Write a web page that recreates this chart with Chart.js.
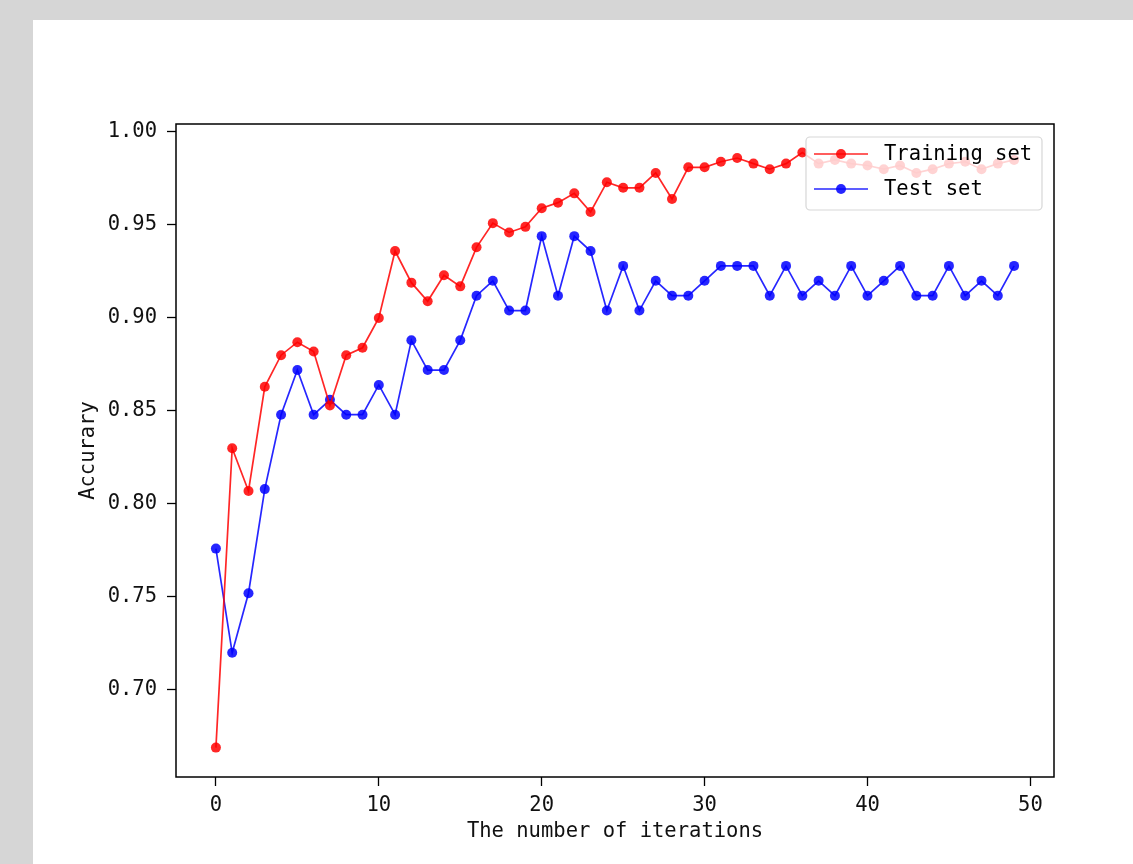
<!DOCTYPE html>
<html>
<head>
<meta charset="utf-8">
<script src="https://cdn.jsdelivr.net/npm/chart.js@4.4.0/dist/chart.umd.min.js"></script>
<style>
  html, body { margin: 0; padding: 0; background: #d6d6d6; width: 1133px; height: 864px; overflow: hidden; }
  #panel { position: absolute; left: 33px; top: 20px; width: 1100px; height: 844px; background: #ffffff; }
  #c { position: absolute; left: 0; top: 0; }
</style>
</head>
<body>
<div id="panel"></div>
<canvas id="c" width="1133" height="864"></canvas>
<script>
// ---- data ----
const iterations = Array.from({length: 50}, (_, i) => i);
const trainAcc = [0.669, 0.830, 0.807, 0.863, 0.880, 0.887, 0.882, 0.853, 0.880, 0.884,
                  0.900, 0.936, 0.919, 0.909, 0.923, 0.917, 0.938, 0.951, 0.946, 0.949,
                  0.959, 0.962, 0.967, 0.957, 0.973, 0.970, 0.970, 0.978, 0.964, 0.981,
                  0.981, 0.984, 0.986, 0.983, 0.980, 0.983, 0.989, 0.983, 0.985, 0.983,
                  0.982, 0.980, 0.982, 0.978, 0.980, 0.983, 0.984, 0.980, 0.983, 0.985];
const testAcc  = [0.776, 0.720, 0.752, 0.808, 0.848, 0.872, 0.848, 0.856, 0.848, 0.848,
                  0.864, 0.848, 0.888, 0.872, 0.872, 0.888, 0.912, 0.920, 0.904, 0.904,
                  0.944, 0.912, 0.944, 0.936, 0.904, 0.928, 0.904, 0.920, 0.912, 0.912,
                  0.920, 0.928, 0.928, 0.928, 0.912, 0.928, 0.912, 0.920, 0.912, 0.928,
                  0.912, 0.920, 0.928, 0.912, 0.912, 0.928, 0.912, 0.920, 0.912, 0.928];
const seriesNames = ['Training set', 'Test set'];
const xTitle = 'The number of iterations';
const yTitle = 'Accurary';

const FONT = "'DejaVu Sans Mono', monospace";
const RED = 'rgba(255,0,0,0.85)';
const BLUE = 'rgba(0,0,255,0.85)';

const framePlugin = {
  id: 'frame',
  afterDraw(chart) {
    const {ctx, chartArea: a} = chart;
    ctx.save();
    ctx.strokeStyle = '#000';
    ctx.lineWidth = 1.5;
    ctx.strokeRect(a.left, a.top, a.right - a.left, a.bottom - a.top);
    ctx.restore();
  }
};

const legendPlugin = {
  id: 'mplLegend',
  afterDatasetsDraw(chart) {
    const ctx = chart.ctx;
    const x0 = 806, y0 = 137, w = 236, h = 73, r = 4;
    ctx.save();
    ctx.beginPath();
    ctx.roundRect(x0, y0, w, h, r);
    ctx.fillStyle = 'rgba(255,255,255,0.8)';
    ctx.fill();
    ctx.strokeStyle = 'rgba(204,204,204,0.8)';
    ctx.lineWidth = 1.2;
    ctx.stroke();
    chart.data.datasets.forEach((ds, i) => {
      const yy = 154 + i * 35;
      ctx.strokeStyle = ds.borderColor;
      ctx.lineWidth = ds.borderWidth;
      ctx.beginPath();
      ctx.moveTo(814, yy);
      ctx.lineTo(868, yy);
      ctx.stroke();
      ctx.fillStyle = ds.pointBackgroundColor;
      ctx.beginPath();
      ctx.arc(841, yy, ds.pointRadius, 0, Math.PI * 2);
      ctx.fill();
      ctx.fillStyle = '#000';
      ctx.font = '20.5px ' + FONT;
      ctx.textBaseline = 'middle';
      ctx.textAlign = 'left';
      ctx.fillText(ds.label, 884, yy + 1);
    });
    ctx.restore();
  }
};

new Chart(document.getElementById('c'), {
  type: 'line',
  data: {
    datasets: [
      {
        label: seriesNames[0],
        data: iterations.map((x, i) => ({x, y: trainAcc[i]})),
        borderColor: RED, backgroundColor: RED, pointBackgroundColor: RED,
        pointBorderWidth: 0, borderWidth: 1.7, pointRadius: 5, tension: 0
      },
      {
        label: seriesNames[1],
        data: iterations.map((x, i) => ({x, y: testAcc[i]})),
        borderColor: BLUE, backgroundColor: BLUE, pointBackgroundColor: BLUE,
        pointBorderWidth: 0, borderWidth: 1.7, pointRadius: 5, tension: 0
      }
    ]
  },
  options: {
    responsive: false,
    animation: false,
    events: [],
    layout: { padding: { left: 0, right: 79, top: 124, bottom: 0 } },
    plugins: { legend: { display: false }, tooltip: { enabled: false } },
    scales: {
      x: {
        type: 'linear',
        min: -2.45, max: 51.45,
        border: { display: false },
        grid: { drawOnChartArea: false, drawTicks: true, tickLength: 9, tickColor: '#000', tickWidth: 1.3 },
        ticks: { stepSize: 10, includeBounds: false, padding: 7, color: '#111',
                 font: { family: FONT, size: 20.5 }, maxRotation: 0,
                 callback: v => String(v) },
        title: { display: true, text: xTitle, color: '#111',
                 font: { family: FONT, size: 20.5 }, padding: { top: 0, bottom: 20 } },
        afterFit(s) { s.height = 87; }
      },
      y: {
        type: 'linear',
        min: 0.6532, max: 1.0043,
        border: { display: false },
        grid: { drawOnChartArea: false, drawTicks: true, tickLength: 9, tickColor: '#000', tickWidth: 1.3 },
        ticks: { stepSize: 0.05, includeBounds: false, padding: 10, color: '#111',
                 font: { family: FONT, size: 20.5 },
                 callback: v => Number(v).toFixed(2) },
        title: { display: true, text: yTitle, color: '#111',
                 font: { family: FONT, size: 20.5 }, padding: { top: 76, bottom: 0 } },
        afterFit(s) { s.width = 176; }
      }
    }
  },
  plugins: [framePlugin, legendPlugin]
});
</script>
</body>
</html>
